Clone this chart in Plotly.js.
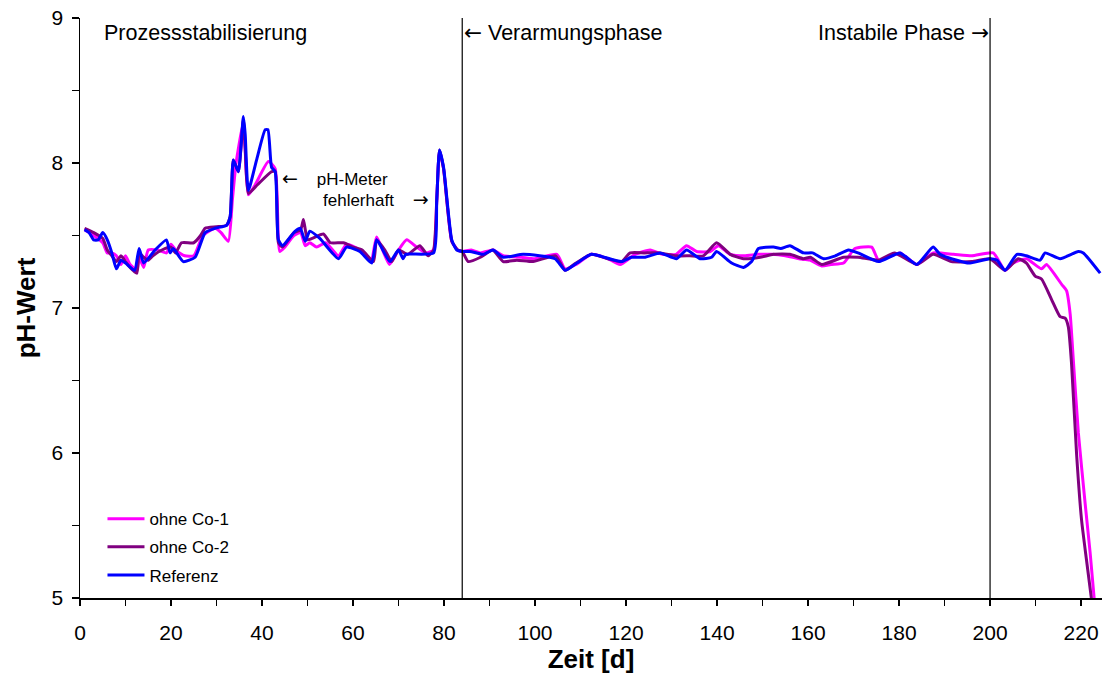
<!DOCTYPE html>
<html>
<head>
<meta charset="utf-8">
<script src="https://cdn.plot.ly/plotly-3.0.1.min.js"></script>
<style>
  html, body { margin: 0; padding: 0; background: #fff; }
  #chart { width: 1108px; height: 679px; }
</style>
</head>
<body>
<div id="chart"></div>
<script>
// ---- Data ----
const seriesNames = ["ohne Co-1", "ohne Co-2", "Referenz"];
const seriesColors = ["#FF00FF", "#800080", "#0000FF"];

const co1X = [1,3,5,6,7,8,9,10,11,12.5,13,14,15,17,19,20,21,23,25,27,29.7,31,32.6,33.5,34.3,35.9,36.3,37,38.5,41.4,42.9,43.9,45,47,48.5,49.5,50.5,52,54,56.8,58.6,61.5,64,65.2,68,70,71.8,74,76,77.7,78.4,79,79.9,81.7,83,84,86,88,90.8,93,97,100,104.8,106.6,109,112.4,116,118.7,122,125.3,128,131,133.3,135.5,138.5,140.3,142.9,146,149,152,155,158,160.4,163,165,167.8,170.3,174,175.5,180.2,183.9,187.5,192,196,200.7,203.3,205.1,208,211.3,212.4,215.8,216.8,217.6,218.3,219.4,220.9,222,222.9];
const co1Y = [7.54,7.50,7.45,7.38,7.38,7.36,7.30,7.36,7.30,7.26,7.35,7.28,7.40,7.40,7.38,7.44,7.40,7.36,7.36,7.50,7.55,7.52,7.46,7.75,8.00,8.28,8.10,7.78,7.85,8.01,7.96,7.39,7.42,7.50,7.52,7.43,7.45,7.42,7.45,7.36,7.44,7.40,7.33,7.49,7.30,7.40,7.47,7.42,7.38,7.40,7.74,8.08,7.96,7.46,7.40,7.39,7.40,7.38,7.40,7.36,7.35,7.34,7.37,7.27,7.30,7.37,7.34,7.30,7.37,7.40,7.37,7.37,7.43,7.39,7.39,7.43,7.37,7.36,7.37,7.37,7.36,7.34,7.33,7.29,7.30,7.31,7.41,7.42,7.33,7.38,7.30,7.38,7.37,7.36,7.38,7.26,7.31,7.34,7.27,7.30,7.16,7.12,6.96,6.64,6.14,5.65,5.31,4.99];

const co2X = [1,3,5,6,7,8,9,10,11,12.5,13,14,15,16,18,20,21,22.3,25,26.5,27.5,30,32.2,33,33.7,34.8,35.9,36.3,37,39,42.1,42.9,43.6,44.5,47,48.5,49.1,50,51,53.5,55,57.9,60,62,64.5,65.2,67,68.5,70,72,74.7,76.5,77.7,78.4,79,79.9,81.7,83,84,85.3,88,90.7,93,96,99.6,104.5,106.6,109,112.4,116,119,120.9,124,127.5,131,134,137,139.9,142.9,145.8,149.5,152.4,156,159,160.5,163,167.8,171,175.5,179,183.9,187.5,191.5,196,200,203.3,206.2,208,209.9,211.3,213.5,215.4,216.5,217.2,217.9,219,220.1,221.2,222.3];
const co2Y = [7.55,7.52,7.48,7.40,7.36,7.32,7.36,7.32,7.28,7.24,7.38,7.35,7.33,7.36,7.40,7.42,7.38,7.45,7.45,7.50,7.55,7.56,7.57,7.63,8.02,7.94,8.30,8.10,7.79,7.85,7.94,7.94,7.45,7.42,7.52,7.54,7.61,7.47,7.48,7.51,7.45,7.45,7.42,7.40,7.32,7.47,7.40,7.32,7.40,7.37,7.43,7.36,7.40,7.74,8.09,7.96,7.46,7.40,7.39,7.32,7.35,7.40,7.32,7.33,7.32,7.36,7.26,7.31,7.37,7.34,7.32,7.38,7.38,7.38,7.36,7.36,7.36,7.45,7.37,7.34,7.35,7.37,7.37,7.34,7.35,7.30,7.35,7.35,7.33,7.38,7.30,7.37,7.32,7.32,7.34,7.26,7.34,7.31,7.22,7.20,7.06,6.94,6.93,6.87,6.62,6.00,5.54,5.26,4.99];

const refX = [1,2,3,4,5,6,7,8,9,10,12,13,14,16.5,19,19.8,20.5,22.7,25.3,27.5,29.7,32.2,33,33.7,34.8,35.9,36.3,37,38.8,40.7,41.3,42.1,42.9,43.6,44.5,47.3,48.4,49.5,50.5,52.7,56.8,58.6,61.5,64.1,65.2,68.1,70,71,71.6,77.7,78.4,79,79.9,81.7,82.8,84,85.7,88.6,90.8,93,97.4,104.4,106.6,109.2,112.4,119,121.2,124.2,127.5,131.1,133.3,136.3,138.8,139.9,143.2,145.8,147.6,149.1,152.4,154,156,159,161,163.4,166,168.9,171,175.5,180.2,183.9,187.5,189,191.5,195.6,200,201.5,203.3,205.9,208,211,212.1,215.4,219.4,220.5,224.2];
const refY = [7.54,7.52,7.47,7.47,7.52,7.47,7.38,7.27,7.33,7.31,7.26,7.41,7.31,7.40,7.47,7.38,7.41,7.32,7.35,7.52,7.55,7.57,7.63,8.02,7.94,8.32,8.20,7.81,8.02,8.23,8.23,7.97,7.94,7.47,7.43,7.53,7.55,7.46,7.53,7.48,7.34,7.42,7.39,7.31,7.47,7.32,7.40,7.34,7.37,7.38,7.74,8.09,7.97,7.47,7.40,7.39,7.39,7.37,7.40,7.35,7.37,7.34,7.26,7.31,7.37,7.32,7.35,7.35,7.38,7.34,7.40,7.34,7.35,7.39,7.31,7.28,7.32,7.41,7.42,7.41,7.43,7.38,7.38,7.34,7.36,7.40,7.38,7.32,7.38,7.30,7.42,7.37,7.34,7.31,7.34,7.33,7.26,7.37,7.36,7.33,7.38,7.34,7.39,7.38,7.24];

const phaseBoundaries = [84, 200];
const xTickVals = [0,20,40,60,80,100,120,140,160,180,200,220];
const yTickVals = [5,6,7,8,9];

// ---- Traces ----
const xs = [co1X, co2X, refX];
const ys = [co1Y, co2Y, refY];
const traces = seriesNames.map((name, i) => ({
  type: "scatter",
  mode: "lines",
  name: name,
  x: xs[i],
  y: ys[i],
  legendgroup: "g" + i,
  line: { color: seriesColors[i], width: 3, shape: "spline", smoothing: 0.5 }
}));

const font = "Arial, 'Liberation Sans', Helvetica, sans-serif";
const arrowL = "<span style=\"font-family:'DejaVu Sans'\">\u2190</span>";
const arrowR = "<span style=\"font-family:'DejaVu Sans'\">\u2192</span>";
const arrowLs = "<span style=\"font-family:'DejaVu Sans';font-size:19px\">\u2190</span>";
const arrowRs = "<span style=\"font-family:'DejaVu Sans';font-size:19px\">\u2192</span>";

const shapes = phaseBoundaries.map(v => ({
  type: "line", xref: "x", yref: "paper", x0: v, x1: v, y0: 0, y1: 1,
  line: { color: "#000", width: 1.2 }, layer: "above"
}));

const annotations = [
  { x: 4.8, y: 8.9, xref: "x", yref: "y", text: "Prozessstabilisierung", showarrow: false, xanchor: "left", yanchor: "middle", font: { size: 21.5, color: "#000", family: font } },
  { x: phaseBoundaries[0], y: 8.9, xref: "x", yref: "y", text: arrowL + " Verarmungsphase", showarrow: false, xanchor: "left", yanchor: "middle", xshift: 0, font: { size: 21.5, color: "#000", family: font } },
  { x: phaseBoundaries[1], y: 8.9, xref: "x", yref: "y", text: "Instabile Phase " + arrowR, showarrow: false, xanchor: "right", yanchor: "middle", xshift: 1, font: { size: 21.5, color: "#000", family: font } },
  { x: 44.0, y: 7.9, xref: "x", yref: "y", text: arrowLs + "\u00a0\u00a0\u00a0\u00a0pH-Meter", showarrow: false, xanchor: "left", yanchor: "middle", font: { size: 17, color: "#000", family: font } },
  { x: 53.0, y: 7.75, xref: "x", yref: "y", text: "fehlerhaft\u00a0\u00a0\u00a0\u00a0" + arrowRs, showarrow: false, xanchor: "left", yanchor: "middle", font: { size: 17, color: "#000", family: font } }
];

const layout = {
  width: 1108, height: 679,
  margin: { l: 80, r: 6, t: 18, b: 81, pad: 0 },
  paper_bgcolor: "#fff", plot_bgcolor: "#fff",
  font: { family: font, color: "#000" },
  showlegend: true,
  legend: {
    x: 0.022, y: 0.167, xanchor: "left", yanchor: "top",
    bgcolor: "rgba(0,0,0,0)", borderwidth: 0,
    font: { size: 17, family: font, color: "#000" },
    tracegroupgap: 3, traceorder: "grouped", itemwidth: 37
  },
  xaxis: {
    range: [0, 224.6], showgrid: false, zeroline: false,
    showline: true, linecolor: "#000", linewidth: 1.5,
    ticks: "outside", ticklen: 6, tickwidth: 1.2, tickcolor: "#000",
    tickmode: "array", tickvals: xTickVals, ticktext: xTickVals.map(String),
    ticklabelstandoff: 9,
    tickfont: { size: 21, family: font, color: "#000" },
    minor: { dtick: 10, tick0: 0, ticks: "outside", ticklen: 6, tickwidth: 1.2, tickcolor: "#000", showgrid: false },
    title: { text: "<b>Zeit [d]</b>", font: { size: 26, family: font, color: "#000" }, standoff: 5 }
  },
  yaxis: {
    range: [5, 9], showgrid: false, zeroline: false,
    showline: true, linecolor: "#000", linewidth: 1.5,
    ticks: "outside", ticklen: 7, tickwidth: 1.2, tickcolor: "#000",
    tickmode: "array", tickvals: yTickVals, ticktext: yTickVals.map(String),
    ticklabelstandoff: 4,
    tickfont: { size: 21, family: font, color: "#000" },
    minor: { dtick: 0.5, tick0: 5, ticks: "outside", ticklen: 7, tickwidth: 1.2, tickcolor: "#000", showgrid: false },
    title: { text: "<b>pH-Wert</b>", font: { size: 26, family: font, color: "#000" }, standoff: 8 }
  },
  shapes: shapes,
  annotations: annotations
};

Plotly.newPlot("chart", traces, layout, { displayModeBar: false, staticPlot: true });
</script>
</body>
</html>
